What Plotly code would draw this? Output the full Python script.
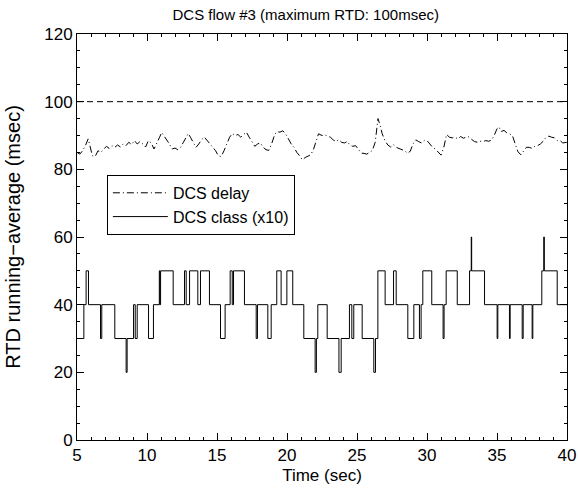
import plotly.graph_objects as go

# ---- data ----
MAX_RTD = 100

DELAY_T = [5.0, 5.2, 5.4, 5.6, 5.8, 5.95, 6.1, 6.3, 6.5, 6.7, 6.9, 7.1, 7.3, 7.5, 7.7, 7.9,
           8.1, 8.3, 8.5, 8.7, 8.9, 9.1, 9.3, 9.5, 9.7, 9.9, 10.1, 10.3, 10.5, 10.7, 10.9,
           11.05, 11.2, 11.4, 11.6, 11.8, 12.0, 12.2, 12.4, 12.6, 12.8, 12.95, 13.1, 13.3,
           13.5, 13.7, 13.9, 14.1, 14.3, 14.5, 14.7, 14.9, 15.1, 15.3, 15.5, 15.7, 15.9,
           16.1, 16.3, 16.5, 16.7, 16.9, 17.1, 17.3, 17.5, 17.7, 17.9, 18.1, 18.3, 18.5,
           18.7, 18.9, 19.1, 19.25, 19.5, 19.7, 19.9, 20.1, 20.3, 20.5, 20.7, 20.9, 21.1,
           21.3, 21.5, 21.7, 21.9, 22.1, 22.25, 22.5, 22.7, 22.9, 23.1, 23.3, 23.5, 23.7,
           23.9, 24.1, 24.3, 24.5, 24.7, 24.9, 25.1, 25.3, 25.5, 25.7, 25.9, 26.1, 26.3,
           26.5, 26.65, 26.8, 27.0, 27.2, 27.4, 27.6, 27.8, 28.0, 28.2, 28.4, 28.6, 28.8,
           29.0, 29.2, 29.4, 29.6, 29.8, 30.0, 30.2, 30.4, 30.6, 30.8, 31.0, 31.2, 31.4,
           31.6, 31.8, 32.0, 32.2, 32.4, 32.6, 32.8, 33.0, 33.2, 33.4, 33.6, 33.8, 34.0,
           34.2, 34.4, 34.6, 34.8, 35.0, 35.15, 35.3, 35.5, 35.7, 35.9, 36.1, 36.3, 36.5,
           36.7, 36.9, 37.1, 37.3, 37.5, 37.7, 37.9, 38.1, 38.3, 38.5, 38.7, 38.9, 39.1,
           39.3, 39.5, 39.7, 40.0]
DELAY_V = [85, 84.5, 85.5, 87, 89, 86, 84, 83.8, 85.5, 85, 86, 86.8, 86.2, 87, 86.5, 87.2,
           86.6, 87.5, 87, 88, 87.3, 88.5, 87.5, 88.2, 87.5, 86.6, 88.5, 87.8, 86, 88, 89.5,
           90.9, 90, 88.5, 87.5, 86, 86.3, 85.8, 86.5, 88, 89.5, 90.6, 89.5, 88,
           86.5, 87.5, 88.8, 89.5, 88.5, 87.5, 86.8, 85.5, 84, 83.8, 85.5, 87.5, 89.5,
           90.6, 90, 90.3, 89.5, 90.3, 91, 89.5, 88, 86.8, 87.5, 87.8, 86.5, 85.8,
           85.6, 87.5, 90, 91.1, 91, 91.4, 90.5, 89, 87.5, 86.5, 85, 84, 82.8,
           83.5, 84, 84.3, 86, 88.5, 90.5, 90, 90.2, 89.8, 89.5, 88.7, 88.2, 88.8,
           88, 87.8, 88.2, 87.2, 86.8, 87, 85.8, 84.8, 84.7, 84.5, 85, 85.6, 88,
           95, 93, 90.5, 88.5, 87.2, 86.6, 87.3, 86.5, 86.2, 85.8, 85.5, 84.8, 85.3,
           87.5, 88.7, 88.2, 87.8, 88.5, 88.5, 87.5, 86.5, 86, 85.2, 84.2, 86.5, 90.3,
           89.5, 89.3, 89.5, 89, 89.7, 89.2, 89.5, 89.6, 88.8, 88.2, 88, 88.3, 88.2,
           88.5, 88.3, 88.6, 90, 92, 92.5, 91.2, 91.5, 90.8, 90.5, 90, 87.5, 85.2,
           84.3, 85.5, 86.5, 86.5, 86.2, 86.8, 87, 87.5, 88.3, 89.5, 89.8, 89.5, 89.3,
           88.5, 88.5, 87.8, 88]

CLASS_T = [5.0, 5.49, 5.65, 5.82, 6.68, 6.77, 7.70, 8.51, 8.58, 9.04, 9.16, 9.30, 10.11,
           10.46, 10.88, 10.92, 10.97, 11.87, 12.68, 12.80, 13.04, 13.63, 13.82, 14.46,
           15.25, 15.58, 15.94, 16.09, 16.18, 16.96, 17.80, 17.89, 18.63, 18.87, 19.27,
           19.58, 19.99, 20.41, 21.20, 22.01, 22.10, 22.20, 22.87, 23.71, 23.87, 24.46,
           24.63, 24.77, 25.37, 26.20, 26.32, 26.49, 27.01, 27.61, 27.80, 28.63, 29.06,
           29.46, 29.58, 29.70, 30.34, 31.15, 31.22, 31.37, 32.16, 33.04, 33.16, 33.19,
           34.11, 35.01, 35.06, 35.89, 35.94, 36.80, 36.87, 37.51, 37.56, 38.20, 38.34,
           38.38, 39.30, 40.0]
CLASS_V = [30, 40, 50, 40, 30, 40, 30, 20, 30, 40, 30, 40, 30,
           40, 50, 40, 50, 40, 50, 40, 50, 40, 50, 40,
           30, 40, 50, 40, 50, 40, 30, 40, 30, 40, 50,
           40, 50, 40, 30, 20, 30, 40, 30, 20, 30, 40,
           30, 40, 30, 20, 30, 50, 40, 50, 40, 30, 40,
           30, 40, 50, 40, 30, 40, 50, 40, 50, 60, 50,
           40, 30, 40, 30, 40, 30, 40, 30, 40, 50, 60,
           50, 40, 40]

X_RANGE = [5, 40]
Y_RANGE = [0, 120]
X_TICKS = [5, 10, 15, 20, 25, 30, 35, 40]
Y_TICKS = [0, 20, 40, 60, 80, 100, 120]

FONT = "Liberation Sans, Arial, sans-serif"

fig = go.Figure()
fig.add_trace(go.Scatter(
    x=X_RANGE, y=[MAX_RTD, MAX_RTD], mode="lines", showlegend=False,
    line=dict(color="black", width=1, dash="6px,4px"), hoverinfo="skip"))
fig.add_trace(go.Scatter(
    x=DELAY_T, y=DELAY_V, mode="lines", name="DCS delay",
    line=dict(color="black", width=1, dash="7px,3px,1px,3px")))
fig.add_trace(go.Scatter(
    x=CLASS_T, y=CLASS_V, mode="lines", name="DCS class (x10)",
    line=dict(color="black", width=1, shape="hv")))

axis_common = dict(
    showline=True, linecolor="black", linewidth=1, mirror="ticks",
    ticks="inside", ticklen=7, tickcolor="black", tickwidth=1,
    showgrid=False, zeroline=False, automargin=False,
    tickfont=dict(family=FONT, size=17, color="black"),
)

fig.update_xaxes(range=X_RANGE, tickvals=X_TICKS,
                 minor=dict(dtick=1, ticks="inside", ticklen=3, tickcolor="black"),
                 title=dict(text="Time (sec)", font=dict(family=FONT, size=17, color="black"),
                            standoff=4),
                 **axis_common)
fig.update_yaxes(range=Y_RANGE, tickvals=Y_TICKS,
                 minor=dict(dtick=5, ticks="inside", ticklen=3, tickcolor="black"),
                 title=dict(text="RTD running\u2212average (msec)",
                            font=dict(family=FONT, size=20, color="black"), standoff=18),
                 **axis_common)

fig.update_layout(
    width=578, height=495,
    margin=dict(l=77, r=11, t=34, b=55),
    paper_bgcolor="white", plot_bgcolor="white",
    title=dict(text="DCS flow #3 (maximum RTD: 100msec)", x=0.529, xanchor="center",
               y=0.97, yanchor="middle",
               font=dict(family=FONT, size=15, color="black")),
    legend=dict(x=0.061, y=0.653, xanchor="left", yanchor="top",
                bordercolor="black", borderwidth=1, bgcolor="white",
                font=dict(family=FONT, size=16, color="black"),
                tracegroupgap=0, itemwidth=55),
    showlegend=True,
)

# remove the default 8px page margin so the figure fills the window exactly
fig.write_html("out.html",
               config={"displayModeBar": False},
               post_script="document.body.style.margin='0';document.body.style.padding='0';")
